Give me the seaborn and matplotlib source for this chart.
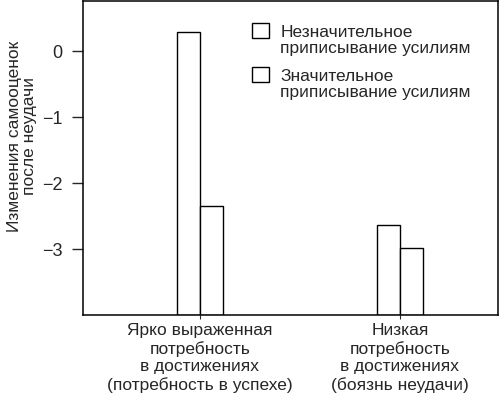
import matplotlib
matplotlib.use("Agg")
import matplotlib.pyplot as plt
import matplotlib.patches as mpatches
from matplotlib.legend_handler import HandlerPatch
import pandas as pd
import seaborn as sns

groups = [
    "Ярко выраженная\nпотребность\nв достижениях\n(потребность в успехе)",
    "Низкая\nпотребность\nв достижениях\n(боязнь неудачи)",
]
series = ["Незначительное\nприписывание усилиям", "Значительное\nприписывание усилиям"]
low_effort = [0.29, -2.64]
high_effort = [-2.35, -2.98]
yticks = [0, -1, -2, -3]
ybase = -4.0

sns.set_style("white")
plt.rcParams["font.family"] = ["Liberation Sans", "DejaVu Sans"]

df = pd.DataFrame({
    "group": groups * 2,
    "series": [series[0]] * 2 + [series[1]] * 2,
    "value": low_effort + high_effort,
})
df["height"] = df["value"] - ybase

fig = plt.figure(figsize=(5.0, 3.95), dpi=100)
ax = fig.add_axes([0.166, 0.2025, 0.83, 0.7945])
sns.barplot(
    x="group", y="height", hue="series", data=df, ax=ax,
    palette=["white", "white"], edgecolor="black", linewidth=1.0,
    width=0.23, gap=0, bottom=ybase, legend=False,
)

ax.set_xlim(-0.585, 1.49)
ax.set_ylim(ybase, 0.76)
ax.set_yticks(yticks)
ax.set_yticklabels([str(t).replace("-", "\u2212") for t in yticks], fontsize=13)
ax.tick_params(axis="y", length=8, width=1, direction="out", left=True, pad=6.5)
ax.tick_params(axis="x", length=3, width=0.8, direction="out", bottom=True, labelsize=12.5, pad=3)
for lab in ax.get_xticklabels():
    lab.set_linespacing(1.2)
ax.set_xlabel("")
ax.set_ylabel("Изменения самооценок\nпосле неудачи", fontsize=12.5, linespacing=1.0)
ax.yaxis.set_label_coords(-0.11, 0.57)
for s in ax.spines.values():
    s.set_visible(True)
    s.set_color("black")
    s.set_linewidth(1.1)


# legend squares sit beside the first line of each two-line label
def top_square(legend, orig_handle, xdescent, ydescent, width, height, fontsize):
    return mpatches.Rectangle((-xdescent, -ydescent + 0.58 * fontsize), width, height)


handles = [mpatches.Patch(facecolor="white", edgecolor="black", linewidth=1.0, label=s) for s in series]
leg = ax.legend(
    handles=handles, loc="upper left", bbox_to_anchor=(0.39, 0.945), frameon=False,
    fontsize=12.5, handlelength=1.0, handleheight=1.0, handletextpad=0.65,
    labelspacing=0.75, borderaxespad=0,
    handler_map={mpatches.Patch: HandlerPatch(patch_func=top_square)},
)
for t in leg.get_texts():
    t.set_linespacing(1.05)

fig.savefig("out.png", dpi=100)
